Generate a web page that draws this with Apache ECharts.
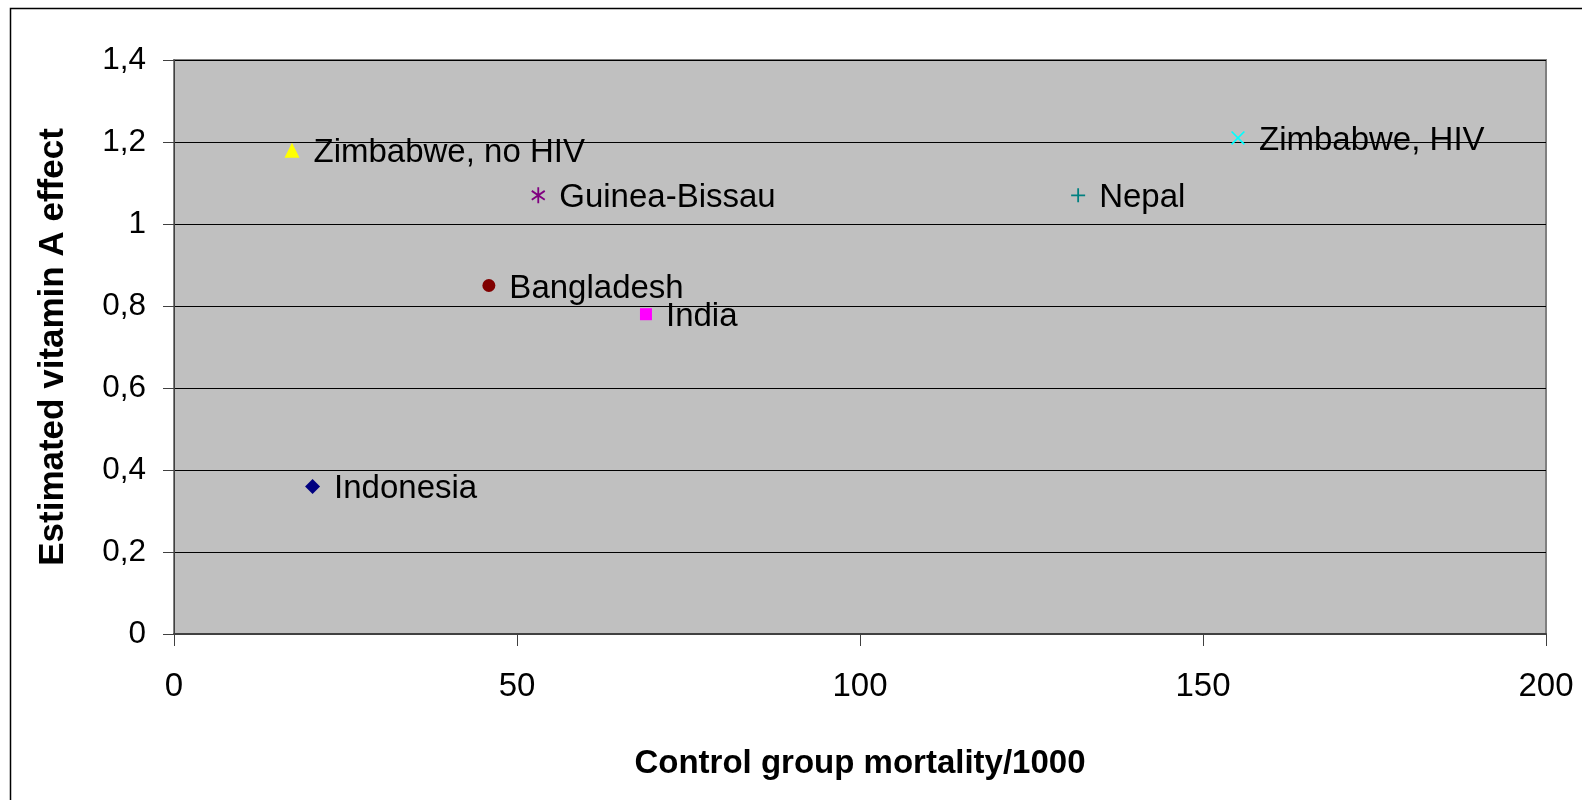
<!DOCTYPE html>
<html>
<head>
<meta charset="utf-8">
<script src="https://cdn.jsdelivr.net/npm/echarts@6/dist/echarts.min.js"></script>
<style>
  html, body { margin: 0; padding: 0; background: #fff; }
  #chart { width: 1582px; height: 800px; }
</style>
</head>
<body>
<div id="chart"></div>
<script>
// Vitamin A trials: control group mortality vs. estimated effect
const countries = ['Indonesia', 'Bangladesh', 'India', 'Zimbabwe, no HIV', 'Guinea-Bissau', 'Zimbabwe, HIV', 'Nepal'];
const mortality = [20.2, 45.9, 68.8, 17.2, 53.1, 155.1, 131.8];
const effect = [0.36, 0.85, 0.78, 1.18, 1.07, 1.21, 1.07];
const xTicks = [0, 50, 100, 150, 200];
const yTicks = [0, 0.2, 0.4, 0.6, 0.8, 1.0, 1.2, 1.4];

// marker look per trial
const markerStyles = [
  { symbol: 'diamond', size: 15, color: '#000080' },
  { symbol: 'circle', size: 13, color: '#800000' },
  { symbol: 'rect', size: 12, color: '#FF00FF' },
  { symbol: 'triangle', size: 15, color: '#FFFF00' },
  { symbol: 'path://M6.2,0 H7.8 V14 H6.2 Z M0.8,3.8 L1.7,2.4 L13.2,10.2 L12.3,11.6 Z M12.3,2.4 L13.2,3.8 L1.7,11.6 L0.8,10.2 Z', size: [14, 16], color: '#800080' },
  { symbol: 'path://M0,1.2 L1.2,0 L14,12.8 L12.8,14 Z M12.8,0 L14,1.2 L1.2,14 L0,12.8 Z', size: 14, color: '#00FFFF' },
  { symbol: 'path://M6.1,0 H7.9 V6.1 H14 V7.9 H7.9 V14 H6.1 V7.9 H0 V6.1 H6.1 Z', size: 14, color: '#008080' }
];

const FONT = "'Liberation Sans', Arial, sans-serif";

const series = countries.map((name, i) => ({
  name: name,
  type: 'scatter',
  symbol: markerStyles[i].symbol,
  symbolSize: markerStyles[i].size,
  itemStyle: { color: markerStyles[i].color, opacity: 1 },
  label: {
    show: true,
    position: 'right',
    distance: 14,
    offset: [0, 3],
    formatter: name,
    color: '#000',
    fontSize: 33,
    fontFamily: FONT
  },
  data: [[mortality[i], effect[i]]],
  z: 5
}));

const chart = echarts.init(document.getElementById('chart'));
chart.setOption({
  animation: false,
  backgroundColor: '#fff',
  grid: {
    left: 174, top: 60, right: 36, bottom: 166,
    show: true,
    backgroundColor: '#C0C0C0',
    borderColor: '#808080',
    borderWidth: 2
  },
  xAxis: {
    type: 'value',
    min: xTicks[0],
    max: xTicks[xTicks.length - 1],
    interval: 50,
    name: 'Control group mortality/1000',
    nameLocation: 'middle',
    nameGap: 113,
    nameTextStyle: { fontSize: 33, fontWeight: 'bold', color: '#000', fontFamily: FONT },
    axisLine: { show: true, onZero: false, lineStyle: { color: '#404040', width: 2 } },
    axisTick: { show: true, inside: false, length: 12, lineStyle: { color: '#404040', width: 1 } },
    axisLabel: { fontSize: 33, color: '#000', margin: 36, fontFamily: FONT },
    splitLine: { show: false }
  },
  yAxis: {
    type: 'value',
    min: yTicks[0],
    max: yTicks[yTicks.length - 1],
    interval: 0.2,
    name: 'Estimated vitamin A effect',
    nameLocation: 'middle',
    nameGap: 103,
    nameRotate: 90,
    nameTextStyle: { fontSize: 35, fontWeight: 'bold', color: '#000', fontFamily: FONT },
    axisLine: { show: true, onZero: false, lineStyle: { color: '#404040', width: 1 } },
    axisTick: { show: true, inside: false, length: 11, lineStyle: { color: '#404040', width: 1 } },
    axisLabel: {
      fontSize: 31.5, color: '#000', margin: 28, fontFamily: FONT,
      formatter: v => (Math.round(v * 10) / 10).toString().replace('.', ',')
    },
    splitLine: { show: true, lineStyle: { color: '#000', width: 1 } }
  },
  graphic: [{
    type: 'polyline',
    shape: { points: [[10.5, 800], [10.5, 8.5], [1582, 8.5]] },
    style: { stroke: '#000', lineWidth: 1.5, fill: null },
    silent: true
  }],
  series: series
});
</script>
</body>
</html>
